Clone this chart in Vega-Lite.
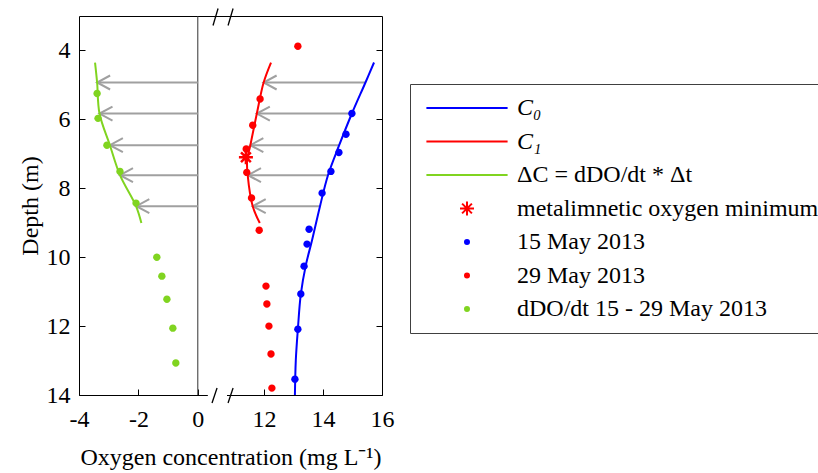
{
  "$schema": "https://vega.github.io/schema/vega-lite/v6.json",
  "width": 303,
  "height": 379,
  "autosize": {"type": "none"},
  "padding": {"left": 79, "top": 16, "right": 436, "bottom": 78},
  "background": "white",
  "config": {
    "view": {"stroke": "#000000", "strokeWidth": 1},
    "font": "Liberation Serif",
    "axis": {"grid": false, "domain": false, "labelFont": "Liberation Serif", "titleFont": "Liberation Serif", "labelFontSize": 24, "titleFontSize": 24, "titleFontWeight": "normal", "labelColor": "#000000", "titleColor": "#000000", "tickColor": "#000000", "tickSize": -6, "tickWidth": 1, "labelOverlap": false, "labelFlush": false}
  },
  "datasets": {
    "profiles": [
      {"series": "C₀", "depth": 4.35, "conc": 15.73},
      {"series": "C₀", "depth": 4.93, "conc": 15.44},
      {"series": "C₀", "depth": 5.83, "conc": 14.98},
      {"series": "C₀", "depth": 6.75, "conc": 14.55},
      {"series": "C₀", "depth": 7.62, "conc": 14.17},
      {"series": "C₀", "depth": 8.52, "conc": 13.90},
      {"series": "C₀", "depth": 9.51, "conc": 13.63},
      {"series": "C₀", "depth": 10.23, "conc": 13.42},
      {"series": "C₀", "depth": 11.07, "conc": 13.25},
      {"series": "C₀", "depth": 12.09, "conc": 13.15},
      {"series": "C₀", "depth": 12.99, "conc": 13.08},
      {"series": "C₀", "depth": 14.0, "conc": 13.05},
      {"series": "C₁", "depth": 4.35, "conc": 12.24},
      {"series": "C₁", "depth": 4.93, "conc": 11.99},
      {"series": "C₁", "depth": 5.83, "conc": 11.76},
      {"series": "C₁", "depth": 6.75, "conc": 11.54},
      {"series": "C₁", "depth": 7.19, "conc": 11.43},
      {"series": "C₁", "depth": 7.62, "conc": 11.45},
      {"series": "C₁", "depth": 8.52, "conc": 11.62},
      {"series": "C₁", "depth": 9.01, "conc": 11.86},
      {"series": "ΔC = dDO/dt * Δt", "depth": 4.35, "conc": -3.46},
      {"series": "ΔC = dDO/dt * Δt", "depth": 4.93, "conc": -3.39},
      {"series": "ΔC = dDO/dt * Δt", "depth": 5.83, "conc": -3.31},
      {"series": "ΔC = dDO/dt * Δt", "depth": 6.75, "conc": -2.96},
      {"series": "ΔC = dDO/dt * Δt", "depth": 7.62, "conc": -2.62},
      {"series": "ΔC = dDO/dt * Δt", "depth": 8.52, "conc": -2.08},
      {"series": "ΔC = dDO/dt * Δt", "depth": 9.01, "conc": -1.90}
    ],
    "obs": [
      {"series": "15 May 2013", "depth": 5.83, "conc": 14.98},
      {"series": "15 May 2013", "depth": 6.43, "conc": 14.78},
      {"series": "15 May 2013", "depth": 6.96, "conc": 14.54},
      {"series": "15 May 2013", "depth": 7.51, "conc": 14.27},
      {"series": "15 May 2013", "depth": 8.14, "conc": 13.97},
      {"series": "15 May 2013", "depth": 9.19, "conc": 13.53},
      {"series": "15 May 2013", "depth": 9.62, "conc": 13.46},
      {"series": "15 May 2013", "depth": 10.26, "conc": 13.36},
      {"series": "15 May 2013", "depth": 11.07, "conc": 13.25},
      {"series": "15 May 2013", "depth": 12.09, "conc": 13.15},
      {"series": "15 May 2013", "depth": 13.54, "conc": 13.05},
      {"series": "29 May 2013", "depth": 3.88, "conc": 13.15},
      {"series": "29 May 2013", "depth": 5.41, "conc": 11.87},
      {"series": "29 May 2013", "depth": 6.17, "conc": 11.62},
      {"series": "29 May 2013", "depth": 6.86, "conc": 11.40},
      {"series": "29 May 2013", "depth": 7.54, "conc": 11.42},
      {"series": "29 May 2013", "depth": 8.28, "conc": 11.58},
      {"series": "29 May 2013", "depth": 9.22, "conc": 11.84},
      {"series": "29 May 2013", "depth": 10.84, "conc": 12.07},
      {"series": "29 May 2013", "depth": 11.36, "conc": 12.10},
      {"series": "29 May 2013", "depth": 12.0, "conc": 12.17},
      {"series": "29 May 2013", "depth": 12.81, "conc": 12.24},
      {"series": "29 May 2013", "depth": 13.8, "conc": 12.27},
      {"series": "dDO/dt 15 - 29 May 2013", "depth": 5.25, "conc": -3.39},
      {"series": "dDO/dt 15 - 29 May 2013", "depth": 5.97, "conc": -3.36},
      {"series": "dDO/dt 15 - 29 May 2013", "depth": 6.75, "conc": -3.06},
      {"series": "dDO/dt 15 - 29 May 2013", "depth": 7.51, "conc": -2.62},
      {"series": "dDO/dt 15 - 29 May 2013", "depth": 8.43, "conc": -2.08},
      {"series": "dDO/dt 15 - 29 May 2013", "depth": 10.0, "conc": -1.38},
      {"series": "dDO/dt 15 - 29 May 2013", "depth": 10.55, "conc": -1.21},
      {"series": "dDO/dt 15 - 29 May 2013", "depth": 11.22, "conc": -1.04},
      {"series": "dDO/dt 15 - 29 May 2013", "depth": 12.06, "conc": -0.84},
      {"series": "dDO/dt 15 - 29 May 2013", "depth": 13.07, "conc": -0.74}
    ],
    "minimum": [
      {"series": "metalimnetic oxygen minimum", "depth": 7.10, "conc": 11.39}
    ],
    "arrows": [
      {"depth": 4.93, "tail": 15.44, "head": 11.99},
      {"depth": 5.83, "tail": 14.98, "head": 11.76},
      {"depth": 6.75, "tail": 14.55, "head": 11.54},
      {"depth": 7.62, "tail": 14.17, "head": 11.46},
      {"depth": 8.52, "tail": 13.90, "head": 11.62},
      {"depth": 4.93, "tail": 0, "head": -3.39},
      {"depth": 5.83, "tail": 0, "head": -3.31},
      {"depth": 6.75, "tail": 0, "head": -2.96},
      {"depth": 7.62, "tail": 0, "head": -2.62},
      {"depth": 8.52, "tail": 0, "head": -2.07}
    ],
    "slashes": [
      {"x1": 10.276, "x2": 10.446, "y1": 3.275, "y2": 2.783},
      {"x1": 10.785, "x2": 10.955, "y1": 3.275, "y2": 2.783},
      {"x1": 10.242, "x2": 10.412, "y1": 14.232, "y2": 13.797},
      {"x1": 10.785, "x2": 10.955, "y1": 14.232, "y2": 13.797}
    ],
    "gap": [
      {"x1": 10.1, "x2": 10.75, "y": 14}
    ]
  },
  "resolve": {"axis": {"y": "independent"}},
  "layer": [
    {
      "data": {"values": [{"x0": 0}]},
      "mark": {"type": "rule", "color": "#333333", "strokeWidth": 1},
      "encoding": {
        "x": {"field": "x0", "type": "quantitative",
          "scale": {"domain": [-4, 0, 9.76, 16], "range": [0, 118.8, 118.8, 303], "nice": false, "zero": false},
          "axis": {"values": [-4, -2, 0, 12, 14, 16], "labelExpr": "replace(datum.label, '−', '-')", "title": "Oxygen concentration (mg L⁻¹)", "labelPadding": 18, "titlePadding": 14}}
      }
    },
    {
      "data": {"name": "arrows"},
      "mark": {"type": "rule", "color": "#a0a0a0", "strokeWidth": 2},
      "encoding": {
        "x": {"field": "tail", "type": "quantitative", "scale": {"domain": [-4, 0, 9.76, 16], "range": [0, 118.8, 118.8, 303], "nice": false, "zero": false}},
        "x2": {"field": "head"},
        "y": {"field": "depth", "type": "quantitative", "scale": {"domain": [3, 14], "reverse": true, "nice": false, "zero": false}, "axis": null}
      }
    },
    {
      "data": {"name": "arrows"},
      "mark": {"type": "point", "shape": "M13,-7L0,0L13,7", "size": 4, "filled": false, "color": "#a0a0a0", "strokeWidth": 2, "opacity": 1},
      "encoding": {
        "x": {"field": "head", "type": "quantitative", "scale": {"domain": [-4, 0, 9.76, 16], "range": [0, 118.8, 118.8, 303], "nice": false, "zero": false}},
        "y": {"field": "depth", "type": "quantitative", "scale": {"domain": [3, 14], "reverse": true, "nice": false, "zero": false}, "axis": null}
      }
    },
    {
      "data": {"name": "profiles"},
      "mark": {"type": "line", "strokeWidth": 2, "interpolate": "catmull-rom"},
      "encoding": {
        "x": {"field": "conc", "type": "quantitative", "scale": {"domain": [-4, 0, 9.76, 16], "range": [0, 118.8, 118.8, 303], "nice": false, "zero": false}},
        "y": {"field": "depth", "type": "quantitative", "scale": {"domain": [3, 14], "reverse": true, "nice": false, "zero": false},
          "axis": {"values": [4, 6, 8, 10, 12, 14], "title": "Depth (m)", "labelPadding": 15, "titlePadding": 4}},
        "order": {"field": "depth", "type": "quantitative"},
        "color": {"field": "series", "type": "nominal",
          "scale": {"domain": ["C₀", "C₁", "ΔC = dDO/dt * Δt", "metalimnetic oxygen minimum", "15 May 2013", "29 May 2013", "dDO/dt 15 - 29 May 2013"],
                    "range": ["#0000ff", "#ff0000", "#80d420", "#ff0000", "#0000ff", "#ff0000", "#80d420"]},
          "legend": {
            "title": null, "orient": "none", "legendX": 331, "legendY": 68,
            "strokeColor": "#404040", "padding": 12,
            "symbolSize": 196, "symbolStrokeWidth": 2, "symbolOffset": 33,
            "labelFont": "Liberation Serif", "labelFontSize": 24, "labelColor": "#000000", "labelLimit": 600, "labelOffset": 38,
            "labelFontStyle": {"expr": "datum.index <= 1 ? 'italic' : 'normal'"},
            "rowPadding": 9.5, "columns": 1
          }
        }
      }
    },
    {
      "data": {"name": "obs"},
      "mark": {"type": "point", "filled": true, "size": 670, "opacity": 1},
      "encoding": {
        "x": {"field": "conc", "type": "quantitative", "scale": {"domain": [-4, 0, 9.76, 16], "range": [0, 118.8, 118.8, 303], "nice": false, "zero": false}},
        "y": {"field": "depth", "type": "quantitative", "scale": {"domain": [3, 14], "reverse": true, "nice": false, "zero": false},
          "axis": {"orient": "right", "values": [4, 6, 8, 10, 12, 14], "labels": false, "title": null}},
        "color": {"field": "series", "type": "nominal"},
        "shape": {"field": "series", "type": "nominal",
          "scale": {"domain": ["C₀", "C₁", "ΔC = dDO/dt * Δt", "metalimnetic oxygen minimum", "15 May 2013", "29 May 2013", "dDO/dt 15 - 29 May 2013"],
                    "range": ["M-5.8,0H5.8", "M-5.8,0H5.8", "M-5.8,0H5.8", "M0,-1V1M-1,0H1M-0.7,-0.7L0.7,0.7M-0.7,0.7L0.7,-0.7", "M-0.286,0A0.286,0.286 0 1,0 0.286,0A0.286,0.286 0 1,0 -0.286,0Z", "M-0.286,0A0.286,0.286 0 1,0 0.286,0A0.286,0.286 0 1,0 -0.286,0Z", "M-0.286,0A0.286,0.286 0 1,0 0.286,0A0.286,0.286 0 1,0 -0.286,0Z"]},
          "legend": {
            "title": null, "orient": "none", "legendX": 331, "legendY": 68,
            "strokeColor": "#404040", "padding": 12,
            "symbolSize": 196, "symbolStrokeWidth": 2, "symbolOffset": 33,
            "labelFont": "Liberation Serif", "labelFontSize": 24, "labelColor": "#000000", "labelLimit": 600, "labelOffset": 38,
            "labelFontStyle": {"expr": "datum.index <= 1 ? 'italic' : 'normal'"},
            "rowPadding": 9.5, "columns": 1
          }
        }
      }
    },
    {
      "data": {"name": "minimum"},
      "mark": {"type": "point", "size": 196, "filled": false, "strokeWidth": 2.5, "opacity": 1},
      "encoding": {
        "x": {"field": "conc", "type": "quantitative", "scale": {"domain": [-4, 0, 9.76, 16], "range": [0, 118.8, 118.8, 303], "nice": false, "zero": false}},
        "y": {"field": "depth", "type": "quantitative", "scale": {"domain": [3, 14], "reverse": true, "nice": false, "zero": false}, "axis": null},
        "color": {"field": "series", "type": "nominal"},
        "shape": {"field": "series", "type": "nominal"}
      }
    },
    {
      "data": {"name": "gap"},
      "mark": {"type": "rule", "color": "#ffffff", "strokeWidth": 3},
      "encoding": {
        "x": {"field": "x1", "type": "quantitative", "scale": {"domain": [-4, 0, 9.76, 16], "range": [0, 118.8, 118.8, 303], "nice": false, "zero": false}},
        "x2": {"field": "x2"},
        "y": {"field": "y", "type": "quantitative", "scale": {"domain": [3, 14], "reverse": true, "nice": false, "zero": false}, "axis": null}
      }
    },
    {
      "data": {"name": "slashes"},
      "mark": {"type": "rule", "color": "#000000", "strokeWidth": 1.3},
      "encoding": {
        "x": {"field": "x1", "type": "quantitative", "scale": {"domain": [-4, 0, 9.76, 16], "range": [0, 118.8, 118.8, 303], "nice": false, "zero": false}},
        "x2": {"field": "x2"},
        "y": {"field": "y1", "type": "quantitative", "scale": {"domain": [3, 14], "reverse": true, "nice": false, "zero": false}, "axis": null},
        "y2": {"field": "y2"}
      }
    }
  ]
}
